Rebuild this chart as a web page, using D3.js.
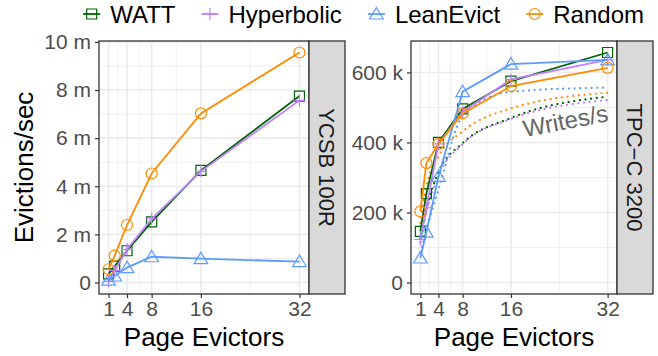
<!DOCTYPE html>
<html>
<head>
<meta charset="utf-8">
<script src="https://cdn.jsdelivr.net/npm/d3@7"></script>
<style>
  body { margin: 0; background: #fff; }
  text { font-family: "Liberation Sans", Arial, sans-serif; }
</style>
</head>
<body>
<div id="chart"></div>
<script>
// x values: number of page evictor threads
var evictors = [1, 2, 4, 8, 16, 32];
var xTicks = [1, 4, 8, 16, 32];

var seriesNames = ["WATT", "Hyperbolic", "LeanEvict", "Random"];
var seriesColors = ["#006400", "#C080FF", "#5B9BFF", "#FF8C00"];
var seriesShapes = ["square", "plus", "triangle", "circle"];

// YCSB 100R - evictions/sec (millions)
var ycsbWatt   = [0.36, 0.68, 1.32, 2.52, 4.66, 7.75];
var ycsbHyper  = [0.05, 0.50, 1.38, 2.65, 4.62, 7.57];
var ycsbLean   = [0.10, 0.27, 0.62, 1.07, 0.99, 0.87];
var ycsbRandom = [0.55, 1.12, 2.39, 4.53, 7.03, 9.56];
var ycsbTicks  = [0, 2, 4, 6, 8, 10];

// TPC-C 3200 - evictions/sec (thousands)
var tpccWatt   = [146, 254, 400, 496, 575, 657];
var tpccHyper  = [123, 215, 396, 488, 580, 636];
var tpccLean   = [70, 144, 303, 545, 624, 636];
var tpccRandom = [203, 341, 396, 483, 561, 613];
var tpccTicks  = [0, 200, 400, 600];

// TPC-C 3200 - writes/s (thousands), dotted
var writesWatt   = [125, 210, 315, 398, 470, 531];
var writesHyper  = [115, 200, 305, 395, 467, 521];
var writesLean   = [85, 150, 265, 475, 545, 557];
var writesRandom = [170, 275, 360, 432, 497, 542];

var width = 658, height = 356;
var font = '"Liberation Sans", Arial, sans-serif';

var svg = d3.select("#chart").append("svg")
  .attr("width", width).attr("height", height)
  .attr("viewBox", "0 0 " + width + " " + height);

function shapePath(shape, x, y) {
  if (shape == "square") return "M" + (x-5) + "," + (y-5) + "h10v10h-10Z";
  if (shape == "plus") return "M" + (x-6) + "," + y + "h12M" + x + "," + (y-6) + "v12";
  if (shape == "triangle") return "M" + x + "," + (y-6.5) + "L" + (x+6.8) + "," + (y+5) + "L" + (x-6.8) + "," + (y+5) + "Z";
  var p = d3.path(); p.moveTo(x+5.5, y); p.arc(x, y, 5.5, 0, 2*Math.PI); return p.toString();
}

function minorOf(ticks) {
  var m = [];
  for (var i = 1; i < ticks.length; i++) m.push((ticks[i-1] + ticks[i]) / 2);
  return m;
}

function drawPanel(opt) {
  var g = svg.append("g");
  var allY = [0].concat(d3.merge(opt.series.concat(opt.dotted || [])));
  var yMin = d3.min(allY), yMax = d3.max(allY), yPad = (yMax - yMin) * 0.05;
  var xPad = (32 - 1) * 0.05;

  var x = d3.scaleLinear().domain([1 - xPad, 32 + xPad]).range([opt.left, opt.right]);
  var y = d3.scaleLinear().domain([yMin - yPad, yMax + yPad]).range([opt.bottom, opt.top]);

  // grid
  var grid = g.append("g");
  minorOf(xTicks).forEach(function(v) {
    grid.append("line").attr("x1", x(v)).attr("x2", x(v)).attr("y1", opt.top).attr("y2", opt.bottom)
      .attr("stroke", "#EBEBEB").attr("stroke-width", 0.8);
  });
  minorOf(opt.ticks).forEach(function(v) {
    grid.append("line").attr("y1", y(v)).attr("y2", y(v)).attr("x1", opt.left).attr("x2", opt.right)
      .attr("stroke", "#EBEBEB").attr("stroke-width", 0.8);
  });
  xTicks.forEach(function(v) {
    grid.append("line").attr("x1", x(v)).attr("x2", x(v)).attr("y1", opt.top).attr("y2", opt.bottom)
      .attr("stroke", "#EBEBEB").attr("stroke-width", 1.6);
  });
  opt.ticks.forEach(function(v) {
    grid.append("line").attr("y1", y(v)).attr("y2", y(v)).attr("x1", opt.left).attr("x2", opt.right)
      .attr("stroke", "#EBEBEB").attr("stroke-width", 1.6);
  });

  var line = d3.line().x(function(d) { return x(d[0]); }).y(function(d) { return y(d[1]); });
  var smooth = d3.line().curve(d3.curveMonotoneX).x(function(d) { return x(d[0]); }).y(function(d) { return y(d[1]); });

  // dotted writes/s lines
  (opt.dotted || []).forEach(function(vals, i) {
    g.append("path").datum(d3.zip(evictors, vals))
      .attr("d", smooth).attr("fill", "none")
      .attr("stroke", seriesColors[i]).attr("stroke-width", 2.2)
      .attr("stroke-dasharray", "0.1,5.6").attr("stroke-linecap", "round");
  });

  // solid lines with markers
  opt.series.forEach(function(vals, i) {
    var pts = d3.zip(evictors, vals);
    g.append("path").datum(pts)
      .attr("d", line).attr("fill", "none")
      .attr("stroke", seriesColors[i]).attr("stroke-width", 1.8);
    g.selectAll(".pt" + i).data(pts).enter().append("path")
      .attr("d", function(d) { return shapePath(seriesShapes[i], x(d[0]), y(d[1])); })
      .attr("fill", "none").attr("stroke", seriesColors[i]).attr("stroke-width", 1.2);
  });

  if (opt.note) {
    g.append("text")
      .attr("transform", "translate(" + x(opt.note.x) + "," + y(opt.note.y) + ") rotate(-11)")
      .attr("text-anchor", "middle").attr("dominant-baseline", "central")
      .attr("font-size", 24).attr("fill", "#666666").text(opt.note.text);
  }

  // panel border
  g.append("rect").attr("x", opt.left).attr("y", opt.top)
    .attr("width", opt.right - opt.left).attr("height", opt.bottom - opt.top)
    .attr("fill", "none").attr("stroke", "#333333").attr("stroke-width", 1.3);

  // axes
  var xAxis = g.append("g").attr("transform", "translate(0," + opt.bottom + ")")
    .call(d3.axisBottom(x).tickValues(xTicks).tickSize(4).tickPadding(3));
  var yAxis = g.append("g").attr("transform", "translate(" + opt.left + ",0)")
    .call(d3.axisLeft(y).tickValues(opt.ticks).tickSize(4).tickPadding(4).tickFormat(opt.format));
  [xAxis, yAxis].forEach(function(a) {
    a.select(".domain").remove();
    a.selectAll(".tick line").attr("stroke", "#333333").attr("stroke-width", 1.2);
    a.selectAll(".tick text").attr("fill", "#4D4D4D").style("font-size", "21px").style("font-family", font);
  });

  // x title
  g.append("text").attr("x", (opt.left + opt.right) / 2).attr("y", 346)
    .attr("text-anchor", "middle").attr("font-size", 26).attr("fill", "#000").text("Page Evictors");

  // facet strip
  g.append("rect").attr("x", opt.right).attr("y", opt.top)
    .attr("width", 36).attr("height", opt.bottom - opt.top)
    .attr("fill", "#D9D9D9").attr("stroke", "#333333").attr("stroke-width", 1.3);
  g.append("text")
    .attr("transform", "translate(" + (opt.right + 10) + "," + ((opt.top + opt.bottom) / 2) + ") rotate(90)")
    .attr("text-anchor", "middle").attr("font-size", 22).attr("fill", "#1A1A1A").text(opt.strip);
}

drawPanel({
  left: 99, right: 309, top: 41, bottom: 294,
  series: [ycsbWatt, ycsbHyper, ycsbLean, ycsbRandom],
  ticks: ycsbTicks,
  format: function(d) { return d == 0 ? "0" : d + " m"; },
  strip: "YCSB 100R"
});

drawPanel({
  left: 411, right: 617, top: 41, bottom: 294,
  series: [tpccWatt, tpccHyper, tpccLean, tpccRandom],
  dotted: [writesWatt, writesHyper, writesLean, writesRandom],
  ticks: tpccTicks,
  format: function(d) { return d == 0 ? "0" : d + " k"; },
  strip: "TPC\u2212C 3200",
  note: { x: 25, y: 462, text: "Writes/s" }
});

// y title
svg.append("text")
  .attr("transform", "translate(33,167.5) rotate(-90)")
  .attr("text-anchor", "middle").attr("font-size", 26).attr("fill", "#000").text("Evictions/sec");

// legend across the top, right end near x=643
var legend = svg.append("g");
var lx = 0, itemGap = 26;
seriesNames.forEach(function(name, i) {
  var item = legend.append("g").attr("transform", "translate(" + lx + ",0)");
  item.append("line").attr("x1", 0).attr("x2", 17).attr("y1", 14).attr("y2", 14)
    .attr("stroke", seriesColors[i]).attr("stroke-width", 1.8);
  item.append("path").attr("d", shapePath(seriesShapes[i], 8.5, 14))
    .attr("fill", "none").attr("stroke", seriesColors[i]).attr("stroke-width", 1.2);
  var t = item.append("text").attr("x", 27).attr("y", 22.5)
    .attr("font-size", 24).attr("fill", "#000").text(name);
  lx += 27 + t.node().getComputedTextLength() + itemGap;
});
legend.attr("transform", "translate(" + (644 - (lx - itemGap)) + ",0)");
</script>
</body>
</html>
